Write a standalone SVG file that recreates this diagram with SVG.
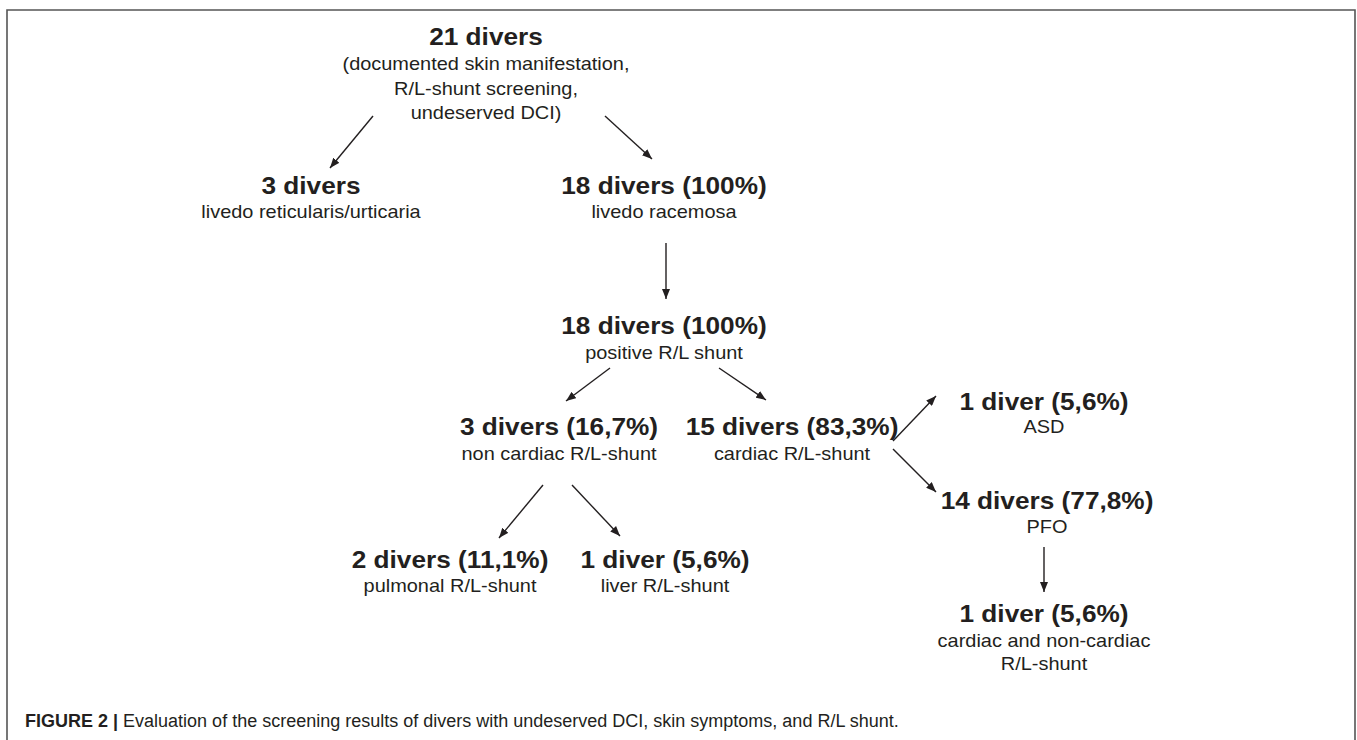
<svg xmlns="http://www.w3.org/2000/svg" width="1357" height="740" viewBox="0 0 1357 740">
<defs>
<marker id="ah" viewBox="0 0 10 8" refX="10" refY="4" markerWidth="10" markerHeight="8" markerUnits="userSpaceOnUse" orient="auto">
<path d="M0,0 L10,4 L0,8 Z" fill="#231f20"/>
</marker>
<style>
.b{font-family:"Liberation Sans",Arial,sans-serif;font-weight:bold;font-size:23px;fill:#231f20;text-anchor:middle}
.r{font-family:"Liberation Sans",Arial,sans-serif;font-size:17.5px;fill:#231f20;text-anchor:middle}
.c{stroke:#231f20;stroke-width:1.4;fill:none;marker-end:url(#ah)}
.cap{font-family:"Liberation Sans",Arial,sans-serif;font-size:18px;fill:#231f20}
.frame{stroke:#555;stroke-width:1.6;fill:none}
</style>
</defs>
<rect width="1357" height="740" fill="#fff"/>
<path class="frame" d="M7,740 V10 H1355 V740"/>

<g id="n1" transform="translate(486 0) scale(1.14 1)">
<text class="b" x="0" y="45">21 divers</text>
<text class="r" x="0" y="70">(documented skin manifestation,</text>
<text class="r" x="0" y="95">R/L-shunt screening,</text>
<text class="r" x="0" y="119">undeserved DCI)</text>
</g>
<g id="n2" transform="translate(311 0) scale(1.14 1)">
<text class="b" x="0" y="194">3 divers</text>
<text class="r" x="0" y="218">livedo reticularis/urticaria</text>
</g>
<g id="n3" transform="translate(664 0) scale(1.14 1)">
<text class="b" x="0" y="194">18 divers (100%)</text>
<text class="r" x="0" y="218">livedo racemosa</text>
</g>
<g id="n4" transform="translate(664 0) scale(1.14 1)">
<text class="b" x="0" y="334">18 divers (100%)</text>
<text class="r" x="0" y="359">positive R/L shunt</text>
</g>
<g id="n5" transform="translate(559 0) scale(1.14 1)">
<text class="b" x="0" y="435">3 divers (16,7%)</text>
<text class="r" x="0" y="460">non cardiac R/L-shunt</text>
</g>
<g id="n6" transform="translate(792 0) scale(1.14 1)">
<text class="b" x="0" y="435">15 divers (83,3%)</text>
<text class="r" x="0" y="460">cardiac R/L-shunt</text>
</g>
<g id="n7" transform="translate(1044 0) scale(1.14 1)">
<text class="b" x="0" y="410">1 diver (5,6%)</text>
<text class="r" x="0" y="433">ASD</text>
</g>
<g id="n8" transform="translate(1047 0) scale(1.14 1)">
<text class="b" x="0" y="509">14 divers (77,8%)</text>
<text class="r" x="0" y="533">PFO</text>
</g>
<g id="n9" transform="translate(1044 0) scale(1.14 1)">
<text class="b" x="0" y="622">1 diver (5,6%)</text>
<text class="r" x="0" y="647">cardiac and non-cardiac</text>
<text class="r" x="0" y="670">R/L-shunt</text>
</g>
<g id="n10" transform="translate(450 0) scale(1.14 1)">
<text class="b" x="0" y="568">2 divers (11,1%)</text>
<text class="r" x="0" y="592">pulmonal R/L-shunt</text>
</g>
<g id="n11" transform="translate(665 0) scale(1.14 1)">
<text class="b" x="0" y="568">1 diver (5,6%)</text>
<text class="r" x="0" y="592">liver R/L-shunt</text>
</g>

<g id="connectors">
<line class="c" x1="373" y1="116" x2="330" y2="168"/>
<line class="c" x1="605" y1="116" x2="652" y2="159"/>
<line class="c" x1="666" y1="243" x2="666" y2="299"/>
<line class="c" x1="610" y1="368" x2="566" y2="401"/>
<line class="c" x1="719" y1="368" x2="766" y2="400"/>
<line class="c" x1="543" y1="485" x2="499" y2="538"/>
<line class="c" x1="572" y1="485" x2="620" y2="536"/>
<line class="c" x1="893" y1="441" x2="936" y2="396"/>
<line class="c" x1="893" y1="449" x2="936" y2="492"/>
<line class="c" x1="1044" y1="547" x2="1044" y2="592"/>
</g>

<text class="cap" x="25" y="727"><tspan font-weight="bold">FIGURE 2 | </tspan>Evaluation of the screening results of divers with undeserved DCI, skin symptoms, and R/L shunt.</text>
</svg>
